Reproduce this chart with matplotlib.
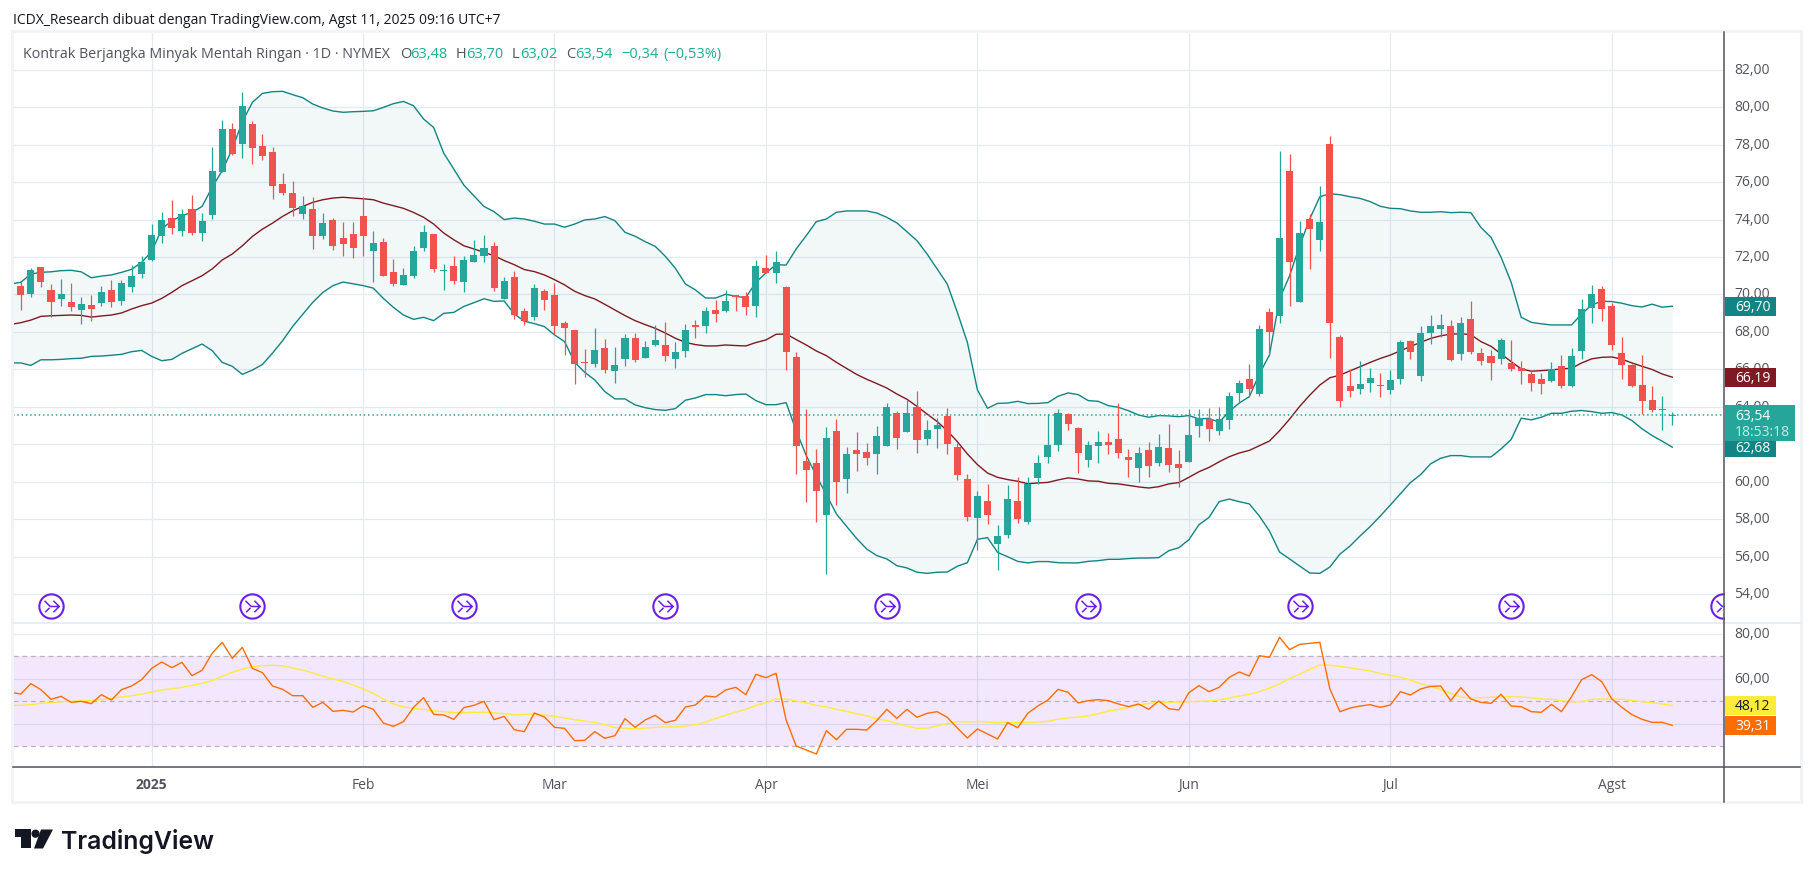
import matplotlib
matplotlib.use("Agg")
import matplotlib.pyplot as plt
from matplotlib.patches import Rectangle, Polygon, Circle
from matplotlib.path import Path
from matplotlib.transforms import ScaledTranslation

W, H = 1814, 878

# first bar sits left of the visible pane, bar 0 is the first session of 2025
first_bar = -14
opens = [68.42, 70.45, 70.02, 71.46, 70.24, 69.75, 69.59, 69.17, 69.43, 69.54, 70.24, 69.65, 70.40, 71.09,
         71.84, 73.12, 74.08, 73.39, 74.56, 73.28, 74.24, 76.54, 78.84, 78.03, 79.10, 77.93, 77.61, 75.90, 75.42, 74.29,
         74.56, 73.12, 73.97, 73.01, 73.23, 74.19, 72.32, 72.80, 71.20, 70.50, 70.98, 72.48, 73.23, 71.25, 71.52, 70.66,
         71.73, 72.05, 72.59, 69.75, 70.93, 69.12, 68.80, 70.19, 69.97, 68.48, 68.10, 66.39, 66.29, 67.14,
         65.91, 66.55, 67.67, 66.61, 67.30, 67.30, 66.55, 66.98, 68.37, 68.32, 69.17, 69.12, 69.97, 69.92, 69.38, 71.41, 71.15, 70.40,
         66.66, 61.10, 61.00, 58.22, 62.71, 60.14, 61.69, 61.58, 61.48, 61.91, 63.67, 62.65, 63.99, 62.28, 62.81, 63.51, 61.85, 60.14,
         58.06, 58.97, 56.67, 57.15, 58.97, 57.85, 60.20, 61.32, 61.96, 63.61, 62.87, 61.16, 61.91, 62.12, 62.28, 61.32, 60.73, 61.69,
         61.00, 61.80, 60.94, 61.05, 62.97, 63.35, 62.71, 63.29, 64.73, 65.48, 64.68, 69.06, 68.85, 76.59, 69.60, 74.03, 72.91, 78.04,
         67.72, 65.10, 64.94, 65.27, 65.16, 64.89, 65.48, 67.51, 65.64, 67.94, 68.15, 68.31, 66.82, 68.69, 66.87, 66.71,
         66.56, 66.34, 66.07, 65.75, 65.49, 65.38, 66.18, 65.11, 66.98, 69.28, 70.29, 69.39, 66.88, 66.24, 65.17, 64.37, 63.85, 63.48]
highs = [70.29, 70.68, 71.41, 71.46, 70.56, 70.82, 70.61, 69.86, 69.97, 70.45, 70.77, 70.77, 71.57, 72.05,
         73.76, 74.38, 75.04, 74.56, 75.31, 74.35, 77.86, 79.32, 79.16, 80.81, 79.26, 78.57, 77.87, 76.49, 76.06, 75.26,
         75.20, 74.35, 74.08, 73.87, 73.87, 75.20, 73.39, 73.01, 71.89, 71.41, 72.59, 73.71, 73.23, 71.62, 72.05, 72.05,
         72.91, 73.17, 72.80, 70.93, 71.25, 69.28, 70.56, 70.29, 70.61, 68.58, 68.10, 67.09, 68.21, 67.62,
         67.19, 67.89, 67.94, 67.51, 68.37, 68.53, 67.46, 68.42, 68.64, 69.33, 69.70, 70.24, 69.97, 70.13, 71.84, 72.11, 72.32, 70.45,
         66.93, 63.88, 61.74, 62.92, 63.35, 61.85, 62.65, 62.07, 62.97, 64.20, 63.77, 64.36, 64.84, 63.29, 63.40, 63.94, 62.07, 60.41,
         59.50, 59.88, 57.68, 59.82, 60.25, 60.25, 61.42, 63.61, 63.88, 63.67, 62.92, 62.17, 62.71, 62.60, 64.20, 61.74, 61.85, 62.12,
         62.55, 63.08, 61.69, 63.88, 63.88, 63.94, 63.99, 64.79, 65.43, 66.28, 68.37, 69.28, 77.66, 77.50, 73.92, 74.30, 75.79, 78.46,
         67.83, 66.01, 66.44, 66.07, 65.80, 65.96, 67.56, 67.56, 68.31, 68.90, 68.96, 68.63, 68.79, 69.65, 67.14, 67.03,
         67.68, 67.57, 66.45, 65.91, 65.81, 66.40, 66.77, 67.14, 69.76, 70.51, 70.45, 69.55, 67.73, 66.29, 66.77, 65.11, 64.58, 63.70]
lows = [68.42, 69.19, 69.86, 70.40, 68.81, 69.38, 69.11, 68.42, 68.58, 69.38, 69.33, 69.43, 70.13, 70.88,
        71.80, 72.75, 73.23, 73.12, 73.17, 72.85, 74.03, 76.54, 77.45, 77.29, 76.97, 77.18, 75.10, 75.31, 74.19, 74.03,
        72.43, 72.96, 72.37, 72.05, 71.94, 72.05, 70.66, 70.98, 70.45, 70.50, 70.88, 72.32, 71.20, 70.24, 70.56, 70.13,
        71.73, 71.73, 70.18, 69.75, 68.69, 68.37, 68.64, 69.17, 67.89, 66.77, 65.22, 65.59, 66.13, 65.81,
        65.27, 66.18, 66.39, 66.61, 67.25, 66.45, 66.07, 66.66, 67.67, 67.94, 68.53, 69.06, 69.12, 68.90, 68.80, 71.15, 70.61, 65.97,
        60.41, 58.91, 57.85, 55.07, 58.75, 59.39, 60.57, 60.89, 60.41, 61.91, 61.74, 62.65, 61.53, 61.96, 61.80, 61.48, 60.09, 57.90,
        56.35, 57.74, 55.28, 56.99, 57.79, 57.74, 59.88, 61.00, 61.64, 62.76, 60.46, 60.78, 61.00, 61.48, 61.26, 60.25, 59.98, 60.25,
        60.84, 60.52, 59.72, 61.05, 62.39, 62.17, 62.49, 62.81, 64.20, 64.50, 64.57, 66.71, 68.47, 69.38, 69.60, 71.36, 72.32, 66.60,
        63.98, 64.52, 64.68, 64.78, 64.52, 64.68, 65.21, 66.55, 65.38, 67.35, 67.73, 66.44, 66.50, 66.82, 66.23, 65.43,
        66.29, 65.91, 65.22, 64.85, 64.69, 65.33, 65.01, 65.06, 66.56, 68.48, 68.59, 67.04, 65.49, 65.06, 63.62, 63.72, 62.76, 63.02]
closes = [70.29, 69.99, 71.30, 70.66, 69.59, 70.02, 69.33, 69.49, 69.22, 70.13, 69.59, 70.61, 70.98, 71.73,
          73.17, 73.97, 73.55, 74.29, 73.28, 73.92, 76.59, 78.84, 77.50, 80.06, 77.82, 77.39, 75.79, 75.42, 74.62, 74.70,
          73.12, 73.81, 72.59, 72.69, 72.48, 73.12, 72.75, 70.98, 70.56, 71.04, 72.32, 73.33, 71.36, 71.31, 70.72, 71.84,
          72.10, 72.48, 70.34, 70.72, 68.90, 68.57, 70.35, 69.70, 68.32, 68.21, 66.29, 66.36, 67.03, 65.97,
          66.23, 67.67, 66.50, 67.19, 67.57, 66.71, 66.93, 68.10, 68.26, 69.12, 68.96, 69.65, 69.88, 69.33, 71.52, 71.15, 71.73, 66.93,
          61.91, 60.62, 59.50, 62.33, 59.98, 61.48, 61.48, 61.26, 62.44, 63.99, 62.33, 63.67, 62.23, 62.76, 63.03, 62.01, 60.36, 58.11,
          59.23, 58.22, 57.10, 59.07, 58.01, 59.88, 61.00, 61.96, 63.67, 63.08, 61.53, 61.96, 62.12, 61.96, 61.53, 61.16, 61.53, 60.84,
          61.85, 60.89, 60.73, 62.49, 63.40, 62.81, 63.35, 64.58, 65.27, 64.94, 68.15, 68.00, 73.01, 71.73, 73.28, 73.50, 73.87, 68.47,
          64.30, 64.84, 65.21, 65.53, 65.10, 65.43, 67.46, 66.92, 67.94, 68.31, 68.37, 66.50, 68.47, 66.92, 66.44, 66.34,
          67.57, 66.02, 65.91, 65.27, 65.22, 66.02, 65.11, 66.72, 69.23, 70.03, 69.23, 67.30, 66.24, 65.11, 64.31, 63.83, 63.88, 63.54]

bb_upper = [70.56, 70.65, 71.09, 71.18, 71.21, 71.27, 71.29, 71.21, 70.89, 70.98, 71.04, 71.18, 71.34, 71.71,
            72.30, 73.49, 73.94, 74.21, 74.38, 74.70, 75.72, 76.61, 77.77, 79.23, 80.26, 80.74, 80.83, 80.85, 80.67, 80.51,
            80.17, 79.96, 79.80, 79.73, 79.76, 79.78, 79.81, 79.99, 80.19, 80.31, 80.08, 79.37, 78.92, 77.55, 76.70, 75.84,
            75.27, 74.70, 74.42, 74.00, 74.08, 74.03, 73.91, 73.76, 73.76, 73.59, 73.76, 73.98, 74.03, 74.16,
            73.94, 73.32, 73.11, 72.82, 72.57, 72.04, 71.40, 70.56, 70.24, 69.81, 69.81, 70.01, 69.90, 69.83, 70.65, 71.15, 71.59, 71.57,
            72.43, 73.14, 73.89, 74.03, 74.39, 74.46, 74.46, 74.46, 74.35, 74.12, 73.82, 73.35, 72.87, 72.16, 71.36, 70.56, 69.05, 67.44,
            64.90, 63.92, 64.18, 64.20, 64.29, 64.17, 64.18, 64.22, 64.56, 64.74, 64.65, 64.33, 64.29, 64.06, 63.97, 63.79, 63.56, 63.44,
            63.53, 63.51, 63.47, 63.53, 63.35, 63.38, 63.17, 63.75, 64.20, 64.54, 65.75, 66.77, 69.76, 71.00, 72.61, 74.03, 75.22, 75.38,
            75.33, 75.22, 75.13, 74.96, 74.71, 74.60, 74.58, 74.46, 74.39, 74.39, 74.42, 74.37, 74.39, 74.37, 73.58, 73.05,
            71.99, 70.65, 68.78, 68.51, 68.43, 68.37, 68.37, 68.37, 68.96, 69.44, 69.64, 69.62, 69.53, 69.40, 69.33, 69.48, 69.32, 69.37]
bb_basis = [68.40, 68.49, 68.63, 68.83, 68.86, 68.88, 68.90, 68.88, 68.79, 68.85, 68.90, 69.01, 69.22, 69.40,
            69.54, 69.79, 70.11, 70.47, 70.73, 71.00, 71.36, 71.84, 72.16, 72.60, 73.10, 73.49, 73.81, 74.17, 74.47, 74.70,
            74.92, 75.06, 75.15, 75.19, 75.15, 75.11, 75.06, 74.88, 74.74, 74.60, 74.38, 74.12, 73.76, 73.28, 72.92, 72.60,
            72.43, 72.25, 72.07, 71.81, 71.59, 71.33, 71.22, 71.04, 70.79, 70.51, 70.17, 69.94, 69.76, 69.47,
            69.17, 68.87, 68.60, 68.39, 68.19, 67.94, 67.66, 67.44, 67.32, 67.25, 67.25, 67.30, 67.27, 67.25, 67.43, 67.57, 67.87, 67.89,
            67.59, 67.30, 66.98, 66.73, 66.37, 66.05, 65.73, 65.47, 65.24, 65.00, 64.68, 64.40, 64.02, 63.61, 63.21, 62.72, 62.14, 61.48,
            60.91, 60.46, 60.23, 60.11, 60.02, 59.89, 59.93, 59.96, 60.09, 60.20, 60.14, 60.04, 60.02, 59.91, 59.88, 59.80, 59.72, 59.66,
            59.73, 59.88, 59.95, 60.23, 60.53, 60.76, 61.06, 61.33, 61.53, 61.67, 61.92, 62.17, 62.72, 63.34, 64.02, 64.62, 65.16, 65.55,
            65.69, 65.92, 66.14, 66.37, 66.58, 66.76, 66.99, 67.22, 67.44, 67.65, 67.79, 67.88, 67.90, 67.85, 67.48, 67.23,
            66.82, 66.41, 66.02, 65.90, 65.93, 65.97, 66.02, 66.06, 66.34, 66.56, 66.64, 66.66, 66.54, 66.34, 66.16, 65.99, 65.75, 65.58]
bb_lower = [66.34, 66.34, 66.21, 66.51, 66.51, 66.53, 66.57, 66.59, 66.69, 66.71, 66.75, 66.80, 66.94, 67.01,
            66.69, 66.46, 66.53, 66.85, 67.10, 67.35, 67.00, 66.37, 66.16, 65.73, 65.96, 66.26, 66.87, 67.53, 68.29, 68.94,
            69.58, 70.11, 70.47, 70.66, 70.57, 70.47, 70.34, 69.79, 69.31, 68.90, 68.67, 68.78, 68.60, 68.99, 69.04, 69.36,
            69.56, 69.77, 69.63, 69.65, 68.96, 68.57, 68.44, 68.28, 67.84, 67.48, 66.38, 65.84, 65.43, 64.81,
            64.42, 64.42, 64.10, 63.95, 63.85, 63.81, 63.90, 64.35, 64.47, 64.65, 64.65, 64.59, 64.65, 64.68, 64.33, 64.11, 64.11, 64.22,
            62.72, 61.39, 60.32, 59.30, 58.27, 57.61, 56.97, 56.40, 56.05, 55.87, 55.51, 55.39, 55.16, 55.10, 55.16, 55.17, 55.48, 55.67,
            56.92, 57.01, 56.22, 55.99, 55.74, 55.66, 55.73, 55.73, 55.67, 55.66, 55.66, 55.74, 55.78, 55.85, 55.85, 55.89, 55.92, 55.92,
            55.94, 56.31, 56.47, 56.90, 57.70, 58.09, 58.93, 59.07, 58.93, 58.81, 58.16, 57.36, 56.24, 55.87, 55.49, 55.12, 55.10, 55.44,
            56.13, 56.56, 57.10, 57.60, 58.16, 58.75, 59.35, 59.95, 60.37, 60.95, 61.25, 61.39, 61.39, 61.32, 61.32, 61.32,
            61.75, 62.25, 63.39, 63.30, 63.44, 63.65, 63.65, 63.76, 63.80, 63.74, 63.65, 63.69, 63.56, 63.26, 62.82, 62.46, 62.16, 61.84]

rsi = [53.98, 53.24, 57.84, 55.17, 50.87, 52.21, 49.54, 49.98, 48.95, 52.95, 50.58, 55.17, 56.80, 59.61,
       64.65, 67.47, 64.95, 67.32, 61.39, 63.76, 71.32, 76.21, 69.10, 73.98, 64.65, 62.72, 56.80, 55.32, 52.50, 52.50,
       47.32, 49.54, 45.54, 45.98, 45.24, 48.06, 46.43, 40.35, 38.87, 40.95, 47.32, 51.61, 44.21, 43.91, 41.98, 47.17,
       48.21, 49.98, 41.84, 43.32, 37.39, 36.50, 44.80, 43.02, 38.43, 37.98, 32.50, 32.65, 36.50, 33.55,
       34.73, 42.29, 38.43, 41.69, 43.77, 40.51, 41.55, 47.47, 48.36, 52.36, 51.92, 55.03, 56.21, 52.95, 61.99, 60.51, 62.43, 41.69,
       30.14, 28.36, 26.58, 36.95, 32.95, 37.55, 37.55, 37.25, 41.40, 46.43, 42.43, 46.43, 42.88, 44.66, 45.40, 42.88, 38.14, 33.69,
       37.69, 35.47, 33.25, 40.51, 38.29, 44.66, 47.92, 50.58, 55.32, 54.00, 49.25, 50.29, 50.73, 50.29, 48.81, 47.62, 48.81, 46.43,
       50.14, 46.73, 46.14, 53.84, 56.95, 54.28, 56.21, 60.65, 63.02, 61.24, 70.28, 69.54, 78.43, 72.95, 75.32, 75.76, 76.21, 55.47,
       45.39, 47.02, 47.91, 48.50, 47.32, 48.36, 54.28, 52.80, 55.47, 56.65, 56.80, 50.28, 56.06, 51.02, 49.54, 49.10,
       53.10, 47.91, 47.61, 45.39, 45.10, 48.65, 45.39, 52.06, 59.61, 61.84, 58.73, 51.02, 47.32, 44.06, 41.98, 40.65, 40.65, 39.31]
rsi_ma = [48.2, 48.2, 48.5, 49.1, 49.4, 49.8, 50.0, 50.3, 50.4, 50.7, 51.3, 51.9, 52.5, 53.2,
          54.1, 55.0, 55.6, 56.2, 57.1, 58.0, 59.2, 61.1, 62.9, 64.3, 65.4, 65.8, 66.0, 65.8, 64.8, 63.8,
          62.6, 61.2, 59.9, 58.9, 57.2, 55.5, 53.5, 51.0, 48.8, 47.5, 46.9, 46.4, 45.8, 45.4, 44.9, 44.9,
          45.1, 45.1, 44.9, 44.5, 43.9, 44.2, 44.3, 43.9, 43.3, 42.6, 41.8, 41.2, 40.6, 39.6,
          38.4, 38.0, 37.8, 38.1, 38.4, 38.6, 38.6, 39.0, 39.6, 40.7, 42.3, 43.8, 45.2, 46.4, 48.2, 49.4, 51.0, 51.0,
          50.1, 49.3, 48.2, 47.5, 46.4, 45.5, 44.5, 43.5, 42.1, 41.5, 40.2, 39.0, 38.0, 38.1, 39.0, 40.1, 41.0, 40.8,
          41.0, 40.8, 40.5, 40.7, 40.5, 40.5, 40.8, 41.1, 42.0, 42.6, 43.0, 43.5, 44.5, 45.7, 46.4, 47.3, 48.4, 49.0,
          49.7, 49.5, 49.7, 49.8, 50.0, 50.1, 50.6, 51.5, 52.3, 53.1, 54.3, 55.9, 57.7, 60.2, 62.1, 64.2, 66.1, 66.1,
          65.5, 64.9, 64.2, 63.5, 62.4, 61.5, 60.65, 59.5, 57.8, 56.65, 55.2, 53.5, 51.8, 51.5, 51.6, 51.8,
          52.0, 52.0, 51.9, 51.6, 51.0, 50.9, 50.3, 49.8, 49.8, 50.9, 51.0, 51.0, 50.9, 50.4, 49.8, 49.4, 48.8, 48.12]

price_ticks = [54, 56, 58, 60, 62, 64, 66, 68, 70, 72, 74, 76, 78, 80, 82]
rsi_grid = [40, 60, 80]
rsi_labelled = [60, 80]
rsi_dashed = [30, 50, 70]
month_bars = [0, 21, 40, 61, 82, 103, 123, 145]
month_labels = ["2025", "Feb", "Mar", "Apr", "Mei", "Jun", "Jul", "Agst"]
expiry_bars = [-10, 10, 31, 51, 73, 93, 114, 135, 156]
last_price = 63.54

GREEN = "#26a69a"
RED = "#ef5350"
TEAL = "#138484"
DARKRED = "#801922"
GRID = "#e3ebf1"
TEXT = "#50535e"
FONT = "Open Sans"

plt.rcParams["font.family"] = [FONT, "DejaVu Sans"]

# pixel edges of the panes, x = 151.7 + 10.07 * bar
LEFT, RIGHT = 13, 1724
TOP, SPLIT, BOTTOM = 33, 623.5, 768
BAR0, BAR_W = 151.7, 10.07


def pane(top, bottom):
    return [LEFT / W, 1 - bottom / H, (RIGHT - LEFT) / W, (bottom - top) / H]


def style_axes(ax):
    ax.set_xlim((LEFT - BAR0) / BAR_W, (RIGHT - BAR0) / BAR_W)
    ax.set_axisbelow(True)
    ax.grid(True, color=GRID, lw=0.9)
    ax.yaxis.tick_right()
    ax.set_xticks(month_bars)
    ax.tick_params(length=0, labelcolor=TEXT, labelsize=10)
    for side in ax.spines.values():
        side.set_visible(False)


def lift_labels(ax, fig):
    # the scale labels sit a little above their grid lines
    for lbl in ax.get_yticklabels():
        lbl.set_transform(lbl.get_transform() + ScaledTranslation(0, 2.5 / 100, fig.dpi_scale_trans))


fig = plt.figure(figsize=(W / 100, H / 100), dpi=100, facecolor="white")
ax = fig.add_axes(pane(TOP, SPLIT))
ax_rsi = fig.add_axes(pane(SPLIT, BOTTOM))
style_axes(ax)
style_axes(ax_rsi)

bars = list(range(first_bar, first_bar + len(closes)))
colors = [GREEN if c >= o else RED for o, c in zip(opens, closes)]

# Bollinger bands under the candles
ax.fill_between(bars, bb_lower, bb_upper, color=TEAL, alpha=0.05, lw=0, zorder=1)
ax.plot(bars, bb_upper, color=TEAL, lw=1.0, zorder=2)
ax.plot(bars, bb_lower, color=TEAL, lw=1.0, zorder=2)
ax.plot(bars, bb_basis, color=DARKRED, lw=1.0, zorder=2)

# candles
ax.vlines(bars, lows, highs, colors=colors, lw=0.9, zorder=3)
ax.bar(bars, [max(abs(c - o), 0.05) for o, c in zip(opens, closes)], bottom=[min(o, c) for o, c in zip(opens, closes)],
       width=0.7, color=colors, lw=0, zorder=3)
ax.axhline(last_price, color="#22ab94", lw=1.1, ls=(0, (1, 1.8)), zorder=2)

ax.set_ylim(72 - (SPLIT - 258) / 18.72, 72 + (258 - TOP) / 18.72)
ax.set_yticks(price_ticks)
ax.set_yticklabels(["%d,00" % p for p in price_ticks])
ax.tick_params(axis="x", labelbottom=False)
ax.tick_params(axis="y", pad=7.5)
lift_labels(ax, fig)

# contract roll icons along the bottom of the price pane
arrow = Path([(-0.55, 0.45), (-0.1, 0.0), (-0.5, -0.45), (-0.15, -0.1), (-0.1, 0.0), (0.6, 0.0),
              (0.15, 0.45), (0.6, 0.0), (0.15, -0.45)],
             [Path.MOVETO, Path.LINETO, Path.MOVETO, Path.LINETO, Path.MOVETO, Path.LINETO,
              Path.MOVETO, Path.LINETO, Path.LINETO])
icon_level = [72 - (606.7 - 258) / 18.72] * len(expiry_bars)
ax.plot(expiry_bars, icon_level, ls="", marker="o", ms=17.5, mfc="white", mec="#6a1fe8", mew=1.5, zorder=5)
ax.plot(expiry_bars, icon_level, ls="", marker=arrow, ms=11, mfc="none", mec="#6a1fe8", mew=1.1, zorder=6)

# RSI pane
ax_rsi.axhspan(30, 70, color="#921ced", alpha=0.10, lw=0, zorder=1)
for level in rsi_dashed:
    ax_rsi.axhline(level, color="#b8b4bc", lw=0.9, ls=(0, (4, 3)), zorder=2)
ax_rsi.plot(bars, rsi_ma, color="#ffeb3b", lw=1.0, zorder=3)
ax_rsi.plot(bars, rsi, color="#ff6d00", lw=1.0, zorder=4)
ax_rsi.set_ylim(30 - (BOTTOM - 747.3) / 2.25, 70 + (657.3 - SPLIT) / 2.25)
ax_rsi.set_yticks(rsi_grid)
ax_rsi.set_yticklabels(["" if v not in rsi_labelled else "%d,00" % v for v in rsi_grid])
ax_rsi.tick_params(axis="y", pad=7.5)
lift_labels(ax_rsi, fig)
ax_rsi.set_xticklabels(month_labels)
ax_rsi.tick_params(axis="x", pad=7.5)
ax_rsi.get_xticklabels()[0].set_fontweight("bold")

# everything around the panes is laid out in pixels on a full figure overlay
over = fig.add_axes([0, 0, 1, 1], zorder=10, facecolor="none")
over.set_xlim(0, W)
over.set_ylim(H, 0)
over.axis("off")

over.add_patch(Rectangle((12, 32), 1789, 771, fill=False, ec="#f1f3f6", lw=2.2))
over.plot([LEFT, 1800], [SPLIT, SPLIT], color=GRID, lw=1.2)
over.plot([LEFT, 1800], [BOTTOM, BOTTOM], color=TEXT, lw=1.1)
over.plot([RIGHT, RIGHT], [TOP, 803], color=TEXT, lw=1.1)


def label(x, y, text, color=TEXT, size=10, **kw):
    over.text(x, y, text, color=color, fontsize=size, va="center", **kw)


def tag(axes, value, text, face, color="white", x1=1776, h=19):
    # value box on the price scale, centred on the last value of a series
    y = H - axes.transData.transform((0, value))[1]
    over.add_patch(Rectangle((RIGHT + 1, y - h / 2), x1 - RIGHT - 1, h, fc=face, ec="none", zorder=3))
    label(RIGHT + 11, y, text, color=color, zorder=4)


label(13, 21, "ICDX_Research dibuat dengan TradingView.com, Agst 11, 2025 09:16 UTC+7", color="#131722", size=10)

label(23, 54.5, "Kontrak Berjangka Minyak Mentah Ringan · 1D · NYMEX", size=10.3)
for x, t, c in [(400, "O", TEXT), (410, "63,48", "#22ab94"), (456, "H", TEXT), (466, "63,70", "#22ab94"),
                (512, "L", TEXT), (520, "63,02", "#22ab94"), (566, "C", TEXT), (575, "63,54", "#22ab94"),
                (621, "\u22120,34", "#22ab94"), (663, "(\u22120,53%)", "#22ab94")]:
    label(x, 54.5, t, color=c, size=10.5)

tag(ax, bb_upper[-1], "69,70", TEAL)
tag(ax, bb_basis[-1], "66,19", DARKRED)
tag(ax, bb_lower[-1], "62,68", TEAL)
tag(ax_rsi, rsi_ma[-1], "48,12", "#ffeb3b", color="#131722")
tag(ax_rsi, rsi[-1], "39,31", "#ff6d00")

# last price box with the countdown under the value
y_last = H - ax.transData.transform((0, last_price))[1]
over.add_patch(Rectangle((RIGHT + 1, y_last - 10), 70, 36, fc="#26a69a", ec="none", zorder=5))
label(RIGHT + 11, y_last, "63,54", color="white", zorder=6)
label(RIGHT + 11, y_last + 16, "18:53:18", color="#c5ebe6", zorder=6)

# TradingView logo
over.add_patch(Polygon([(15, 830.5), (31, 830.5), (31, 849.5), (21, 849.5), (21, 838), (15, 838)], fc="#131722", ec="none"))
over.add_patch(Circle((35.5, 834.7), 4.1, fc="#131722", ec="none"))
over.add_patch(Polygon([(41, 830.5), (53, 830.5), (43, 849.5), (34, 849.5)], fc="#131722", ec="none"))
label(61, 841.5, "TradingView", color="#131722", size=17.9, fontweight="semibold", family=["Inter", "DejaVu Sans"])

fig.savefig("out.png", dpi=100)
